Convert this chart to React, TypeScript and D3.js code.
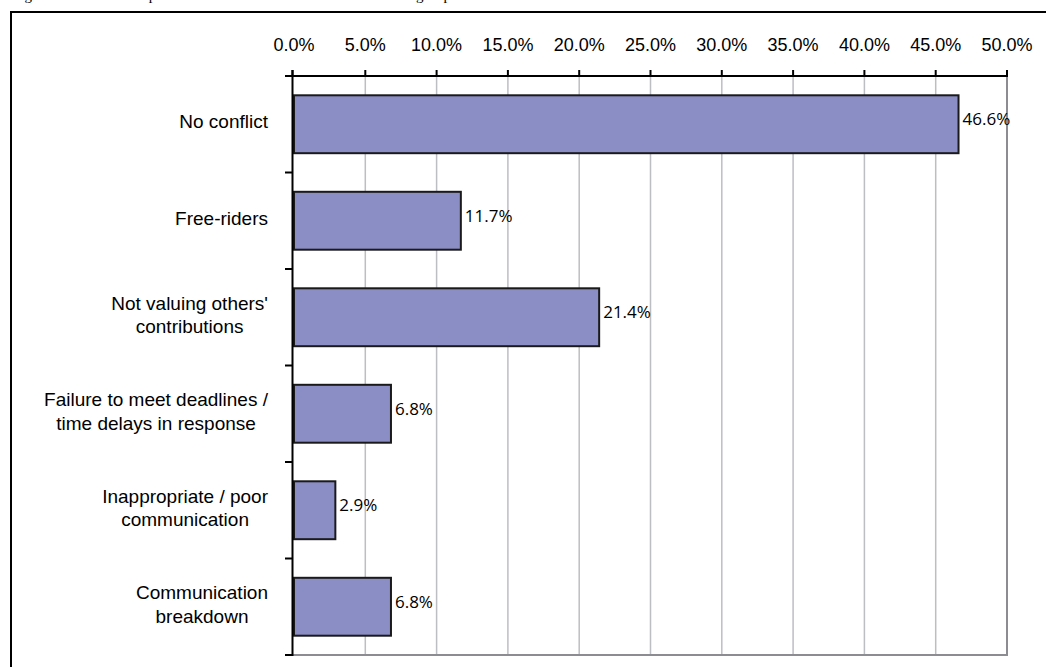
import React from "react";
import * as d3 from "d3";

const categories: string[][] = [
  ["No conflict"],
  ["Free-riders"],
  ["Not valuing others'", "contributions"],
  ["Failure to meet deadlines /", "time delays in response"],
  ["Inappropriate / poor", "communication"],
  ["Communication", "breakdown"],
];
const values: number[] = [46.6, 11.7, 21.4, 6.8, 2.9, 6.8];
const xTicks: number[] = [0, 5, 10, 15, 20, 25, 30, 35, 40, 45, 50];
const caption = "Figure 4.2: Student responses on the source of conflict within their group";

const W = 1046;
const H = 667;
const LEFT = 294;
const RIGHT = 1007;
const TOP = 76;
const BOTTOM = 655;
const SANS = "'Liberation Sans', Arial, sans-serif";
const CAT_FONT = 19;

let ctx: CanvasRenderingContext2D | null = null;
function measure(text: string, font: string): number {
  if (!ctx) {
    const c = document.createElement("canvas");
    ctx = c.getContext("2d");
  }
  if (!ctx) return text.length * 9;
  ctx.font = font;
  return ctx.measureText(text).width;
}

export default function App() {
  const x = d3.scaleLinear().domain([0, 50]).range([LEFT, RIGHT]);
  const idx = categories.map((_, i) => String(i));
  const y = d3
    .scaleBand<string>()
    .domain(idx)
    .range([TOP, BOTTOM])
    .paddingInner(0.4)
    .paddingOuter(0.2);
  const step = y.step();
  const boundaries = d3.range(categories.length + 1).map((i) => TOP + i * step);
  const labelRight = 268;
  const lineH = 23.5;

  return (
    <svg
      width={W}
      height={H}
      style={{ position: "absolute", left: 0, top: 0, background: "#fff" }}
    >
      <rect x={0} y={0} width={W} height={H} fill="#fff" />
      <text
        x={12}
        y={-0.5}
        fontFamily="'Liberation Serif', 'Times New Roman', serif"
        fontSize={15}
        fill="#000"
      >
        {caption}
      </text>
      {/* outer frame */}
      <path d={`M11,${H} V12 H${W}`} fill="none" stroke="#000" strokeWidth={2} />

      {/* gridlines */}
      {xTicks
        .filter((t) => t > 0 && t < 50)
        .map((t) => (
          <line
            key={"g" + t}
            x1={x(t)}
            x2={x(t)}
            y1={TOP}
            y2={BOTTOM}
            stroke="#bdbdc4"
            strokeWidth={1.5}
          />
        ))}
      {/* plot border right & bottom */}
      <path
        d={`M${x(0) - 1},${BOTTOM} H${x(50)} V${TOP}`}
        fill="none"
        stroke="#8c8c92"
        strokeWidth={2}
      />

      {/* bars */}
      {values.map((v, i) => (
        <rect
          key={"b" + i}
          x={x(0)}
          y={y(String(i))}
          width={x(v) - x(0)}
          height={y.bandwidth()}
          fill="#8b8ec5"
          stroke="#1a1a1a"
          strokeWidth={2}
        />
      ))}

      {/* x axis (top) */}
      <line x1={285} x2={x(50) + 1} y1={TOP} y2={TOP} stroke="#000" strokeWidth={2} />
      {xTicks.map((t) => (
        <line
          key={"t" + t}
          x1={t === 0 ? x(t) - 1.5 : x(t)}
          x2={t === 0 ? x(t) - 1.5 : x(t)}
          y1={70}
          y2={TOP}
          stroke="#000"
          strokeWidth={2}
        />
      ))}
      {xTicks.map((t) => (
        <text
          key={"tl" + t}
          x={x(t)}
          y={51}
          textAnchor="middle"
          fontFamily={SANS}
          fontSize={18}
          fill="#000"
        >
          {d3.format(".1f")(t) + "%"}
        </text>
      ))}

      {/* y axis */}
      <line x1={x(0) - 1.5} x2={x(0) - 1.5} y1={70} y2={BOTTOM + 1} stroke="#000" strokeWidth={2} />
      {boundaries.map((b, i) => (
        <line
          key={"yt" + i}
          x1={285}
          x2={x(0) - 1.5}
          y1={b}
          y2={b}
          stroke="#000"
          strokeWidth={2}
        />
      ))}

      {/* category labels */}
      {categories.map((lines, i) => {
        const center = (y(String(i)) as number) + y.bandwidth() / 2;
        const font = `${CAT_FONT}px 'Liberation Sans'`;
        const maxW = d3.max(lines, (l) => measure(l, font)) as number;
        const cx = labelRight - maxW / 2;
        return (
          <text
            key={"c" + i}
            textAnchor="middle"
            fontFamily={SANS}
            fontSize={CAT_FONT}
            fill="#000"
          >
            {lines.map((l, j) => (
              <tspan key={j} x={cx} y={center + 4 + (j - (lines.length - 1) / 2) * lineH}>
                {l}
              </tspan>
            ))}
          </text>
        );
      })}

      {/* value labels */}
      {values.map((v, i) => (
        <text
          key={"v" + i}
          x={x(v) + 4}
          y={(y(String(i)) as number) + y.bandwidth() / 2 + 1}
          fontFamily="'Open Sans', sans-serif"
          fontSize={17}
          fill="#000"
        >
          {d3.format(".1f")(v) + "%"}
        </text>
      ))}
    </svg>
  );
}
